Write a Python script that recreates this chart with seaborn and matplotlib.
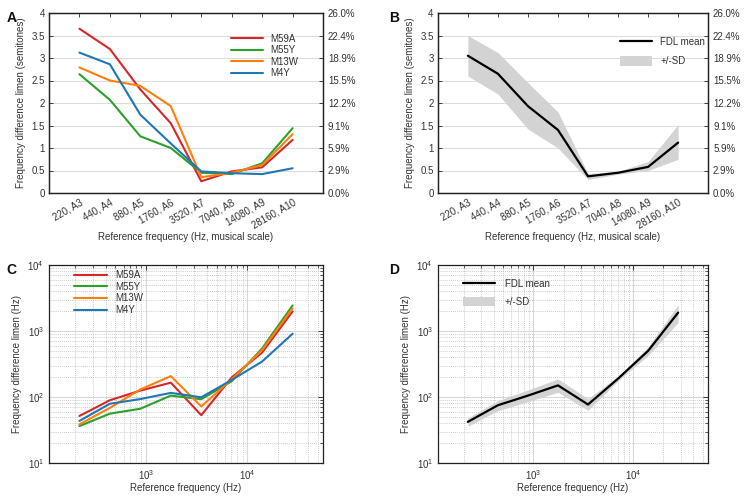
import numpy as np
import pandas as pd
import matplotlib
matplotlib.use("Agg")
import matplotlib.pyplot as plt
import seaborn as sns
from matplotlib.ticker import FixedLocator, LogLocator, NullFormatter

sns.set_style("white")
plt.rcParams['font.family'] = ['Liberation Sans', 'DejaVu Sans']

# ---------------- data ----------------
freqs = [220, 440, 880, 1760, 3520, 7040, 14080, 28160]
tick_labels = ["220, A3", "440, A4", "880, A5", "1760, A6", "3520, A7",
               "7040, A8", "14080, A9", "28160, A10"]
subjects = ["M59A", "M55Y", "M13W", "M4Y"]
colors = ["#d62728", "#2ca02c", "#ff7f0e", "#1f77b4"]

semi_M59A = [3.65, 3.20, 2.30, 1.55, 0.26, 0.48, 0.57, 1.18]
semi_M55Y = [2.64, 2.07, 1.26, 1.00, 0.45, 0.42, 0.66, 1.44]
semi_M13W = [2.79, 2.50, 2.38, 1.93, 0.35, 0.45, 0.62, 1.31]
semi_M4Y = [3.12, 2.86, 1.74, 1.10, 0.48, 0.44, 0.42, 0.55]

semi_mean = [3.05, 2.65, 1.93, 1.40, 0.37, 0.45, 0.58, 1.12]
semi_lo = [2.60, 2.20, 1.42, 1.00, 0.30, 0.42, 0.50, 0.75]
semi_hi = [3.50, 3.12, 2.45, 1.80, 0.43, 0.48, 0.70, 1.52]

hz_M59A = [51.6, 89.3, 125, 165, 53, 198, 472, 1985]
hz_M55Y = [36.3, 55.9, 66.4, 105, 92.6, 173, 546, 2441]
hz_M13W = [38.5, 68.4, 130, 207, 72, 185, 514, 2213]
hz_M4Y = [43.4, 79, 93, 115.5, 99, 181, 345, 910]

hz_mean = [42, 75, 105, 150, 77, 190, 500, 1900]
hz_lo = [36, 62, 85, 118, 63, 176, 425, 1350]
hz_hi = [48, 88, 128, 188, 94, 206, 575, 2500]

semi_ticks = [0, 0.5, 1, 1.5, 2, 2.5, 3, 3.5, 4]
semi_tick_labels = ["0", "0.5", "1", "1.5", "2", "2.5", "3", "3.5", "4"]
pct_labels = ["0.0%", "2.9%", "5.9%", "9.1%", "12.2%", "15.5%", "18.9%", "22.4%", "26.0%"]

TXT = "#333333"
FS = 7.0

# long-form tables
idx = list(range(len(freqs)))
semi_df = pd.DataFrame({
    "pos": idx * 4,
    "val": semi_M59A + semi_M55Y + semi_M13W + semi_M4Y,
    "subject": sum([[s] * len(freqs) for s in subjects], []),
})
hz_df = pd.DataFrame({
    "freq": freqs * 4,
    "val": hz_M59A + hz_M55Y + hz_M13W + hz_M4Y,
    "subject": sum([[s] * len(freqs) for s in subjects], []),
})
mean_semi_df = pd.DataFrame({"pos": idx, "val": semi_mean})
mean_hz_df = pd.DataFrame({"freq": freqs, "val": hz_mean})

fig = plt.figure(figsize=(7.51, 5.0), dpi=100)
axA = fig.add_axes([0.0652, 0.614, 0.365, 0.360])
axB = fig.add_axes([0.583, 0.614, 0.360, 0.360])
axC = fig.add_axes([0.0652, 0.074, 0.365, 0.396])
axD = fig.add_axes([0.583, 0.074, 0.360, 0.396])


def style_top(ax):
    ax.set_xlim(-1, 8)
    ax.set_ylim(0, 4)
    ax.set_xticks(idx)
    ax.set_xticklabels(tick_labels, rotation=30, ha="right", rotation_mode="anchor",
                       fontsize=FS, color=TXT)
    ax.set_yticks(semi_ticks)
    ax.set_yticklabels(semi_tick_labels, fontsize=FS, color=TXT)
    ax.yaxis.grid(True, color="#dddddd", lw=0.8)
    ax.set_axisbelow(True)
    ax.tick_params(direction="in", length=3, width=0.6, top=True, right=False,
                   colors="#222222", labelcolor=TXT, pad=3)
    ax.set_xlabel("Reference frequency (Hz, musical scale)", fontsize=FS, color=TXT, labelpad=1)
    ax.set_ylabel("Frequency difference limen (semitones)", fontsize=FS, color=TXT, labelpad=4)
    for sp in ax.spines.values():
        sp.set_color("#222222")
        sp.set_linewidth(0.9)
    ax2 = ax.twinx()
    ax2.set_ylim(0, 4)
    ax2.set_yticks(semi_ticks)
    ax2.set_yticklabels(pct_labels, fontsize=FS, color=TXT)
    ax2.tick_params(direction="in", length=3, width=0.6, colors="#222222", labelcolor=TXT)
    for sp in ax2.spines.values():
        sp.set_color("#222222")
        sp.set_linewidth(0.9)


def style_bottom(ax):
    ax.set_xscale("log")
    ax.set_yscale("log")
    ax.set_xlim(110, 56320)
    ax.set_ylim(10, 10000)
    ax.xaxis.set_major_locator(FixedLocator([1e3, 1e4]))
    ax.yaxis.set_major_locator(FixedLocator([1e1, 1e2, 1e3, 1e4]))
    ax.xaxis.set_minor_locator(LogLocator(base=10, subs=np.arange(2, 10)))
    ax.yaxis.set_minor_locator(LogLocator(base=10, subs=np.arange(2, 10)))
    ax.xaxis.set_minor_formatter(NullFormatter())
    ax.yaxis.set_minor_formatter(NullFormatter())
    ax.grid(True, which="major", color="#d8d8d8", lw=0.8)
    ax.grid(True, which="minor", color="#bbbbbb", lw=0.6, ls=(0, (1, 1.5)))
    ax.set_axisbelow(True)
    ax.tick_params(which="both", direction="in", top=True, right=True,
                   colors="#222222", labelcolor=TXT, labelsize=FS)
    ax.tick_params(which="major", length=3.5, width=0.6)
    ax.tick_params(which="minor", length=2, width=0.5)
    ax.set_xlabel("Reference frequency (Hz)", fontsize=FS, color=TXT, labelpad=1)
    ax.set_ylabel("Frequency difference limen (Hz)", fontsize=FS, color=TXT, labelpad=4)
    for sp in ax.spines.values():
        sp.set_color("#222222")
        sp.set_linewidth(0.9)


leg_kw = dict(frameon=False, fontsize=FS, borderpad=0, borderaxespad=0,
              labelcolor=TXT, loc="upper left")

# Panel A
sns.lineplot(data=semi_df, x="pos", y="val", hue="subject", palette=colors,
             hue_order=subjects, ax=axA, lw=1.5, legend=True)
style_top(axA)
legA = axA.legend(bbox_to_anchor=(0.664, 0.885), handlelength=3.3, handletextpad=0.7,
                  labelspacing=0.15, **leg_kw)
for h in legA.get_lines():
    h.set_linewidth(1.5)

# Panel B
axB.fill_between(idx, semi_lo, semi_hi, color="#d3d3d3", lw=0, label="+/-SD")
sns.lineplot(data=mean_semi_df, x="pos", y="val", color="black", lw=1.6, ax=axB,
             label="FDL mean")
style_top(axB)
h, l = axB.get_legend_handles_labels()
order = [l.index("FDL mean"), l.index("+/-SD")]
axB.legend([h[i] for i in order], [l[i] for i in order],
           bbox_to_anchor=(0.675, 0.87), handlelength=3.3, handleheight=1.2,
           handletextpad=0.8, labelspacing=0.95, **leg_kw)

# Panel C
sns.lineplot(data=hz_df, x="freq", y="val", hue="subject", palette=colors,
             hue_order=subjects, ax=axC, lw=1.5, legend=True)
style_bottom(axC)
legC = axC.legend(bbox_to_anchor=(0.091, 0.975), handlelength=3.4, handletextpad=0.9,
                  labelspacing=0.18, **leg_kw)
for h in legC.get_lines():
    h.set_linewidth(1.5)

# Panel D
axD.fill_between(freqs, hz_lo, hz_hi, color="#d3d3d3", lw=0, label="+/-SD")
sns.lineplot(data=mean_hz_df, x="freq", y="val", color="black", lw=1.6, ax=axD,
             label="FDL mean")
style_bottom(axD)
h, l = axD.get_legend_handles_labels()
order = [l.index("FDL mean"), l.index("+/-SD")]
axD.legend([h[i] for i in order], [l[i] for i in order],
           bbox_to_anchor=(0.093, 0.93), handlelength=3.3, handleheight=1.0,
           handletextpad=1.0, labelspacing=0.8, **leg_kw)

for ax, letter in [(axA, "A"), (axB, "B"), (axC, "C"), (axD, "D")]:
    pos = ax.get_position()
    x = pos.x0 - (0.057 if letter in "AC" else 0.065)
    fig.text(x, pos.y1 + 0.003, letter, fontsize=10, fontweight="bold", ha="left", va="top",
             color="#111111")

fig.savefig("out.png", dpi=100)
